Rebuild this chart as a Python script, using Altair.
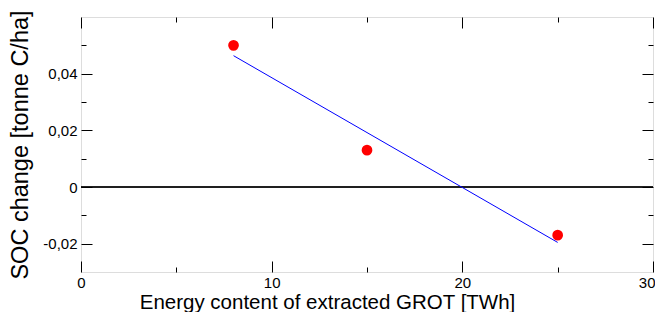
import altair as alt
import pandas as pd

energy = [8, 15, 25]
soc = [0.050, 0.013, -0.017]
x_major = [0, 10, 20, 30]
x_minor = [5, 15, 25]
y_major = [-0.02, 0, 0.02, 0.04]
y_minor = [-0.01, 0.01, 0.03, 0.05]
x_title = "Energy content of extracted GROT [TWh]"
y_title = "SOC change [tonne C/ha]"

df = pd.DataFrame({"energy": energy, "soc": soc})

FONT = "Liberation Sans"
MAJ = 11
MIN = 5
xs = alt.Scale(domain=[0, 30], nice=False, zero=False)
ys = alt.Scale(domain=[-0.03, 0.06], nice=False, zero=False)

ylab = ("datum.value == 0 ? '0' : replace(replace(format(datum.value, '.2f'), '.', ','), '\u2212', '-')")


def ax(orient, values, size, title="", labels=False, expr=""):
    kw = dict(orient=orient, values=values, tickSize=size, offset=-size,
              domain=False, grid=False, labels=labels, ticks=True,
              tickColor="black", tickWidth=1, title=title)
    if labels:
        kw.update(labelFont=FONT, labelFontSize=15, labelColor="black",
                  labelPadding=4 if orient == "left" else 3, labelFlush=False)
        if expr:
            kw["labelExpr"] = expr
        if orient == "bottom":
            kw["labelAlign"] = {"condition": {"test": "datum.value >= 30", "value": "right"},
                                "value": "center"}
            kw["labelOffset"] = {"condition": {"test": "datum.value >= 30", "value": 2},
                                 "value": 0}
    if title:
        kw.update(titleFont=FONT, titleFontWeight="normal", titleColor="black")
        if orient == "left":
            kw.update(titleFontSize=23.5, titlePadding=10)
        else:
            kw.update(titleFontSize=20.5, titleX=246, titleY=47,
                      titleAlign="center", titleBaseline="alphabetic")
    return alt.Axis(**kw)


base = alt.Chart(df)

pts = base.mark_circle(color="#ff0000", opacity=1, size=115).encode(
    x=alt.X("energy:Q", scale=xs, axis=ax("bottom", x_major, MAJ, x_title, True)),
    y=alt.Y("soc:Q", scale=ys, axis=ax("left", y_major, MAJ, y_title, True, ylab)),
)

line = base.mark_line(color="#0000ff", strokeWidth=1).transform_regression(
    "energy", "soc"
).encode(
    x=alt.X("energy:Q", scale=xs, axis=ax("bottom", x_minor, MIN)),
    y=alt.Y("soc:Q", scale=ys, axis=ax("left", y_minor, MIN)),
)

top_major = base.mark_point(opacity=0).encode(
    x=alt.X("energy:Q", scale=xs, axis=ax("top", x_major, MAJ)),
    y=alt.Y("soc:Q", scale=ys, axis=ax("right", y_major, MAJ)),
)

top_minor = base.mark_point(opacity=0).encode(
    x=alt.X("energy:Q", scale=xs, axis=ax("top", x_minor, MIN)),
    y=alt.Y("soc:Q", scale=ys, axis=ax("right", y_minor, MIN)),
)

zero = base.mark_rule(color="black", strokeWidth=1).encode(
    y=alt.YDatum(0, type="quantitative", scale=ys, axis=None)
)

chart = alt.layer(zero, line, top_major, top_minor, pts).resolve_axis(
    x="independent", y="independent"
).properties(
    width=572, height=255, autosize="none",
    padding={"left": 73, "top": 9, "right": 2, "bottom": 40},
).configure_view(stroke="black", strokeWidth=1).configure(background="white")

chart.save("out.html", embed_options={"renderer": "svg", "actions": False})
